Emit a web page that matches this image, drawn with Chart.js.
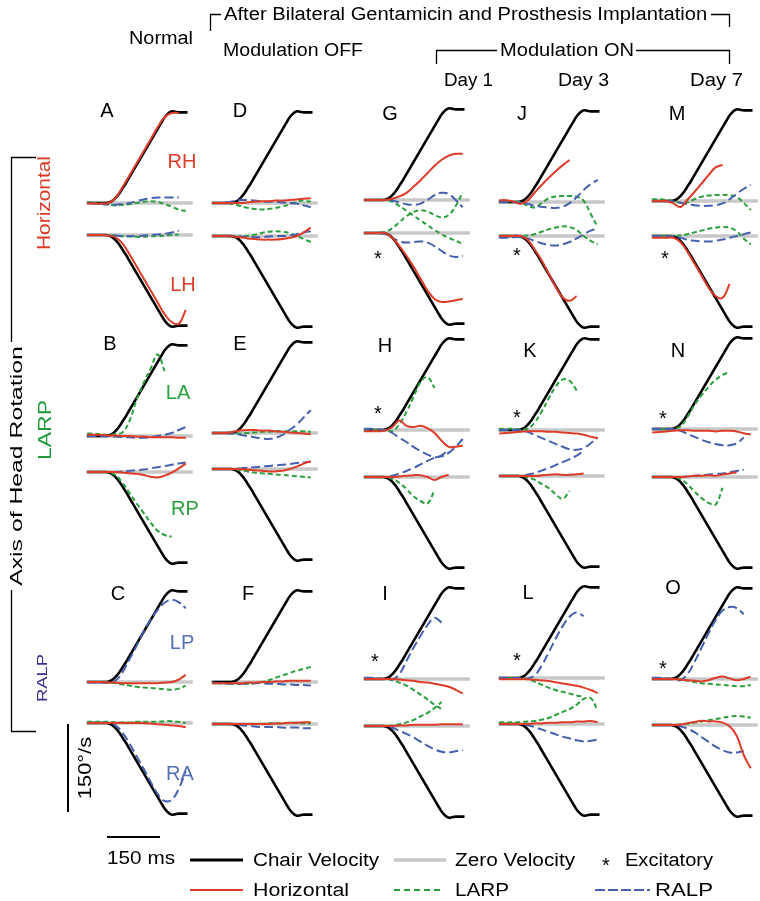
<!DOCTYPE html>
<html>
<head>
<meta charset="utf-8">
<script src="https://cdn.jsdelivr.net/npm/chart.js@4.4.0/dist/chart.umd.min.js"></script>
<style>
  body { margin: 0; background: #fff; }
  #fig { position: relative; width: 760px; height: 901px; overflow: hidden;
         font-family: "Liberation Sans", Arial, Helvetica, sans-serif; }
  .t { position: absolute; white-space: nowrap; line-height: 1; }
  canvas { position: absolute; }
</style>
</head>
<body>
<div id="fig"><canvas id="deco" width="760" height="901" style="left:0;top:0"></canvas></div>
<script>
// time axis of the eye traces (ms after trace start)
const T = [0, 20, 40, 60, 80, 100, 120, 140, 160, 180, 200, 220, 240, 260, 280];

// chair velocity profile (deg/s), same in every panel
const chairT = [0, 20, 40, 55, 62, 70, 80, 90, 100, 110, 120, 130, 140, 150, 160, 170, 180, 190, 200, 210, 218, 226, 234, 242, 250, 260, 270, 285];
const chairV = [0, 0, 0, 0, 1, 3, 8, 15, 24, 33, 43, 53, 63, 73, 83, 93, 103, 113, 123, 133, 141, 147, 151, 153, 152, 151, 151, 151];

// eye velocity (deg/s): up = upper trace, lo = lower trace; H = horizontal, L = LARP, R = RALP
const A_upH = [0, -1, -1, 0, 8, 26, 46, 66, 86, 106, 126, 143, 150, 150, null];
const A_upL = [2, 0, -2, -3, -4, -3, -2, 0, 2, 3, 2, -2, -6, -11, -13];
const A_upR = [0, 0, -1, -2, -3, -2, 0, 3, 6, 8, 9, 9, 9, 9, null];
const A_loH = [0, 0, 0, -1, -4, -14, -32, -52, -72, -92, -112, -132, -145, -148, -125];
const A_loL = [0, 0, 0, 0, -1, -2, -2, -3, -3, -2, -2, -1, 0, 1, null];
const A_loR = [0, 0, 0, 0, -1, -2, -2, -2, -1, 0, 1, 2, 4, 7, null];

const D_upH = [0, 0, 0, 0, 0, 1, 2, 3, 3, 4, 4, 5, 6, 7, 8];
const D_upL = [0, 0, 0, -2, -5, -8, -10, -11, -10, -8, -6, -2, 2, 4, 2];
const D_upR = [0, 0, 1, 3, 5, 5, 4, 3, 2, 2, 1, 0, -1, -4, -7];
const D_loH = [0, 0, 0, -1, -2, -4, -5, -6, -6, -6, -5, -3, 0, 6, 14];
const D_loL = [0, 0, 0, -1, -1, 0, 2, 5, 7, 8, 7, 5, 0, -5, -10];
const D_loR = [0, 0, 0, 0, -1, -2, -2, -2, -1, 0, 0, 1, 3, 6, 8];

const G_upH = [0, 0, 0, 0, 2, 6, 12, 22, 33, 45, 57, 67, 74, 77, 77];
const G_upL = [0, 0, 0, 0, -3, -10, -18, -26, -34, -42, -50, -57, -63, -68, -73];
const G_upR = [0, 0, 0, 0, -1, -4, -7, -8, -6, 0, 8, 12, 10, 0, -12];
const G_loH = [0, 0, 0, 0, -8, -22, -38, -56, -76, -96, -110, -115, -114, -112, -110];
const G_loL = [0, 0, 0, 2, 8, 18, 28, 35, 38, 36, 30, 26, 30, 45, 68];
const G_loR = [0, 0, 0, -2, -8, -14, -16, -15, -14, -16, -22, -30, -37, -40, -38];

const J_upH = [3, 3, 1, -3, 2, 15, 28, 40, 51, 61, 70, null, null, null, null];
const J_upL = [2, 2, 1, 0, -6, -9, -2, 6, 9, 10, 10, 9, 2, -20, -42];
const J_upR = [0, 0, 0, -1, -3, -6, -8, -9, -10, -8, -2, 8, 20, 30, 37];
const J_loH = [0, 0, 0, 0, -6, -22, -40, -62, -84, -102, -108, -100, null, null, null];
const J_loL = [0, 0, 0, 0, 1, 3, 7, 11, 14, 16, 15, 10, 0, -8, -14];
const J_loR = [-3, -3, -2, -2, -4, -8, -12, -15, -16, -14, -10, -4, 3, 9, 13];

const M_upH = [0, 0, 0, -4, -10, 2, 15, 29, 43, 56, 60, null, null, null, null];
const M_upL = [3, 3, 2, 0, -3, -2, 3, 7, 9, 10, 10, 10, 7, -3, -15];
const M_upR = [0, 0, 0, -1, -3, -5, -7, -8, -8, -7, -4, 3, 12, 20, 27];
const M_loH = [-3, -3, -3, -3, -10, -26, -46, -66, -86, -100, -103, -80, null, null, null];
const M_loL = [0, 0, 0, 0, 1, 3, 6, 9, 12, 14, 15, 14, 8, -4, -14];
const M_loR = [0, 0, 0, -1, -3, -6, -8, -9, -9, -8, -6, -3, 0, 3, 6];

const B_upH = [2, 2, 2, 1, 1, 0, 0, -1, -1, -2, -2, -2, -2, -3, -3];
const B_upL = [4, 4, 3, 2, 3, 6, 25, 60, 88, 112, 136, 108, null, null, null];
const B_upR = [0, 0, 0, 0, -1, -2, -2, -3, -3, -2, 0, 2, 5, 10, 15];
const B_loH = [0, 0, 0, 0, 0, -1, -2, -3, -5, -8, -9, -6, -1, 6, 14];
const B_loL = [0, 0, 0, -1, -5, -18, -35, -52, -68, -84, -98, -105, -108, null, null];
const B_loR = [0, 0, 0, 0, 0, 1, 2, 3, 4, 6, 8, 10, 12, 14, 16];

const E_upH = [0, 0, 0, 2, 4, 5, 5, 4, 4, 3, 2, 1, 0, -1, -2];
const E_upL = [0, 0, 0, -1, -1, 0, 1, 2, 2, 3, 3, 3, 3, 3, 2];
const E_upR = [0, 0, 0, -1, -3, -5, -7, -9, -10, -8, -3, 5, 14, 26, 38];
const E_loH = [0, 0, 0, 0, 0, -1, -2, -3, -4, -4, -3, 0, 4, 9, 13];
const E_loL = [0, 0, 0, 0, -2, -4, -6, -7, -8, -9, -10, -11, -12, -13, -14];
const E_loR = [0, 0, 0, 0, 1, 2, 3, 4, 5, 6, 7, 8, 10, 11, 12];

const H_upH = [-2, -2, -2, -1, 5, 16, 7, 5, 7, 3, -5, -18, -28, -28, -26];
const H_upL = [0, 0, 0, 0, -2, 10, 30, 55, 80, 88, 70, null, null, null, null];
const H_upR = [2, 2, 1, 0, -5, -13, -20, -28, -35, -41, -45, -44, -38, -28, -15];
const H_loH = [0, 0, 0, 0, 0, 1, 2, 3, 3, 0, -5, 0, 4, null, null];
const H_loL = [0, 0, 0, 0, -3, -10, -20, -32, -40, -44, -22, null, null, null, null];
const H_loR = [0, 0, 0, 0, 2, 6, 10, 15, 21, 27, 32, 36, 46, null, null];

const K_upH = [-6, -5, -4, -3, -2, -2, -2, -3, -3, -4, -5, -6, -8, -11, -14];
const K_upL = [2, 2, 2, 1, 2, 12, 30, 52, 72, 84, 82, 66, null, null, null];
const K_upR = [0, 0, 0, 0, -3, -8, -13, -18, -23, -28, -32, -33, -30, -22, -12];
const K_loH = [0, 0, 0, 0, 0, 0, 1, 2, 3, 2, 2, 3, 4, null, null];
const K_loL = [0, 0, 0, 0, -2, -6, -13, -20, -30, -38, -25, null, null, null, null];
const K_loR = [0, 0, 0, 0, 2, 5, 9, 13, 18, 23, 28, 34, 42, null, null];

const N_upH = [-6, -5, -4, -3, -2, -2, -3, -3, -3, -4, -3, -3, -4, -7, -9];
const N_upL = [0, 0, 0, 0, 4, 20, 40, 56, 70, 82, 90, 95, null, null, null];
const N_upR = [0, 0, 0, 0, -3, -8, -13, -18, -22, -25, -27, -27, -24, -14, null];
const N_loH = [0, 0, 0, 0, 0, 1, 2, 2, 3, 2, 4, 6, 8, null, null];
const N_loL = [0, 0, 0, 0, -3, -12, -24, -35, -43, -46, -18, null, null, null, null];
const N_loR = [0, 0, 0, 0, 0, 1, 2, 3, 4, 5, 6, 8, 10, 12, null];

const C_upH = [0, 0, 0, -1, -1, -2, -2, -2, -2, -2, -2, -1, 0, 4, 12];
const C_upL = [0, 0, 0, -1, -2, -4, -6, -8, -9, -10, -11, -12, -13, -11, -6];
const C_upR = [0, -1, -1, -1, 2, 16, 38, 60, 84, 104, 120, 132, 137, 133, 123];
const C_loH = [0, 0, 0, 0, 0, 0, 0, 0, 0, -1, -2, -3, -4, -5, -7];
const C_loL = [2, 2, 2, 2, 1, 1, 1, 2, 2, 2, 2, 3, 3, 2, 0];
const C_loR = [0, 0, 0, 0, -4, -16, -34, -55, -76, -98, -118, -130, -128, -110, -80];

const F_upH = [-2, -2, -2, -2, -2, -1, -1, 0, 0, 1, 1, 2, 2, 2, 2];
const F_upL = [-2, -2, -2, -3, -3, -3, -2, 0, 3, 7, 11, 15, 19, 22, 25];
const F_upR = [-1, -2, -3, -3, -3, -3, -2, -2, -3, -3, -4, -4, -5, -5, -6];
const F_loH = [0, 0, 0, 0, 0, 0, 0, 0, 0, 1, 1, 2, 2, 3, 3];
const F_loL = [0, 0, 0, 0, 0, 0, 0, 0, 1, 1, 1, 2, 2, 1, 1];
const F_loR = [0, 0, 0, -1, -2, -3, -4, -5, -5, -5, -6, -6, -6, -7, -7];

const I_upH = [0, 0, 0, 0, 0, -1, -2, -3, -5, -6, -8, -10, -13, -18, -24];
const I_upL = [0, 0, 0, 0, -2, -6, -11, -18, -26, -34, -43, -50, null, null, null];
const I_upR = [2, 2, 1, 0, -1, 8, 30, 52, 72, 90, 102, 94, null, null, null];
const I_loH = [0, 0, 0, 0, 0, 1, 1, 2, 2, 2, 2, 3, 3, 3, 3];
const I_loL = [0, 0, 0, 0, 1, 3, 6, 10, 16, 22, 30, 40, null, null, null];
const I_loR = [0, 0, 0, 0, -3, -8, -13, -19, -26, -33, -39, -43, -44, -42, -40];

const L_upH = [-2, -2, -2, -2, -2, -3, -4, -5, -7, -9, -11, -13, -16, -20, -25];
const L_upL = [0, 0, 0, 0, -2, -6, -11, -16, -20, -23, -26, -29, -31, null, null];
const L_upR = [0, 0, 0, 0, -1, 4, 20, 42, 65, 86, 102, 109, 103, null, null];
const L_loH = [0, 0, 0, 0, 0, 1, 1, 2, 2, 3, 3, 4, 4, 5, 3];
const L_loL = [3, 3, 3, 3, 4, 5, 7, 10, 15, 20, 25, 32, 42, 43, 22];
const L_loR = [0, 0, 0, 0, -2, -5, -9, -13, -17, -21, -24, -27, -29, -28, -26];

const O_upH = [0, 0, 0, 0, -1, -2, -3, -4, -2, 2, 4, 1, -2, 0, 4];
const O_upL = [0, 0, 0, 0, -1, -3, -5, -7, -8, -9, -10, -11, -12, -12, -10];
const O_upR = [2, 2, 1, 0, -2, 8, 28, 52, 76, 98, 114, 120, 118, 108, null];
const O_loH = [0, 0, 0, 0, 1, 3, 5, 7, 6, 6, 4, -2, -18, -50, -72];
const O_loL = [0, 0, 0, 0, 1, 2, 4, 6, 8, 10, 12, 14, 15, 14, 12];
const O_loR = [0, 0, 0, 0, -2, -6, -12, -20, -28, -36, -42, -46, -46, -43, null];

// layout of the 15 panels: trace start x, upper / lower zero line y, label and asterisk spots
const PANELS = [
  { id: 'A', x0: 87,  up: 203, low: 235, lab: [107, 110], star: null,       d: [A_upH, A_upL, A_upR, A_loH, A_loL, A_loR] },
  { id: 'D', x0: 212, up: 203, low: 236, lab: [240, 110], star: null,       d: [D_upH, D_upL, D_upR, D_loH, D_loL, D_loR] },
  { id: 'G', x0: 364, up: 200, low: 233, lab: [390, 113], star: [378, 253], d: [G_upH, G_upL, G_upR, G_loH, G_loL, G_loR] },
  { id: 'J', x0: 499, up: 202, low: 236, lab: [522, 113], star: [517, 250], d: [J_upH, J_upL, J_upR, J_loH, J_loL, J_loR] },
  { id: 'M', x0: 652, up: 201, low: 236, lab: [677, 113], star: [665, 253], d: [M_upH, M_upL, M_upR, M_loH, M_loL, M_loR] },
  { id: 'B', x0: 87,  up: 436, low: 472, lab: [110, 343], star: null,       d: [B_upH, B_upL, B_upR, B_loH, B_loL, B_loR] },
  { id: 'E', x0: 212, up: 433, low: 469, lab: [240, 343], star: null,       d: [E_upH, E_upL, E_upR, E_loH, E_loL, E_loR] },
  { id: 'H', x0: 364, up: 430, low: 477, lab: [385, 345], star: [378, 408], d: [H_upH, H_upL, H_upR, H_loH, H_loL, H_loR] },
  { id: 'K', x0: 499, up: 430, low: 476, lab: [530, 350], star: [517, 412], d: [K_upH, K_upL, K_upR, K_loH, K_loL, K_loR] },
  { id: 'N', x0: 652, up: 429, low: 477, lab: [678, 350], star: [663, 413], d: [N_upH, N_upL, N_upR, N_loH, N_loL, N_loR] },
  { id: 'C', x0: 87,  up: 682, low: 723, lab: [118, 593], star: null,       d: [C_upH, C_upL, C_upR, C_loH, C_loL, C_loR] },
  { id: 'F', x0: 212, up: 682, low: 724, lab: [248, 593], star: null,       d: [F_upH, F_upL, F_upR, F_loH, F_loL, F_loR] },
  { id: 'I', x0: 364, up: 679, low: 726, lab: [385, 593], star: [375, 656], d: [I_upH, I_upL, I_upR, I_loH, I_loL, I_loR] },
  { id: 'L', x0: 499, up: 678, low: 724, lab: [528, 592], star: [517, 655], d: [L_upH, L_upL, L_upR, L_loH, L_loL, L_loR] },
  { id: 'O', x0: 652, up: 679, low: 725, lab: [673, 587], star: [663, 663], d: [O_upH, O_upL, O_upR, O_loH, O_loL, O_loR] },
];

const RED = '#dc3c28', GREEN = '#2a9f3c', BLUE = '#4660ad', GRAY = '#c8c8c8';
const K = 150 / 90;        // deg/s per pixel
const PX_MS = 53 / 150;    // pixels per ms
const X_MIN = -12, X_MAX = 312;
const PAD = 110;

const fig = document.getElementById('fig');

function txt(s, x, y, o = {}) {
  const d = document.createElement('div');
  d.className = 't';
  d.textContent = s;
  d.style.fontSize = (o.size || 18) + 'px';
  d.style.color = o.color || '#000';
  d.style.left = x + 'px';
  d.style.top = y + 'px';
  fig.appendChild(d);
  const sx = o.w ? o.w / d.offsetWidth : 1;
  d.style.transformOrigin = o.left ? '0 50%' : '50% 50%';
  d.style.transform = `translate(${o.left ? '0' : '-50%'},-50%) rotate(${o.rot || 0}deg) scaleX(${sx})`;
}

function pts(arr) {
  const out = [];
  arr.forEach((v, i) => { if (v !== null) out.push({ x: T[i], y: v }); });
  return out;
}

function eye(data, axis, color, dash, order) {
  return { data: pts(data), yAxisID: axis, borderColor: color, borderWidth: 2,
           borderDash: dash, order, tension: 0.4 };
}

function makePanel(p) {
  const c = document.createElement('canvas');
  const top = p.up - PAD, h = (p.low + PAD) - top;
  const w = Math.round((X_MAX - X_MIN) * PX_MS);
  c.width = w; c.height = h;
  c.style.left = Math.round(p.x0 + X_MIN * PX_MS) + 'px';
  c.style.top = top + 'px';
  fig.appendChild(c);

  const upMax = PAD * K, loMax = (p.low - top) * K;
  const chairUp = chairT.map((t, i) => ({ x: t, y: chairV[i] }));
  const chairLo = chairT.map((t, i) => ({ x: t, y: -chairV[i] }));
  const zero = [{ x: -3, y: 0 }, { x: 300, y: 0 }];
  const [uH, uL, uR, lH, lL, lR] = p.d;

  new Chart(c, {
    type: 'line',
    data: {
      datasets: [
        { data: zero, yAxisID: 'yU', borderColor: GRAY, borderWidth: 3.5, order: 10 },
        { data: zero, yAxisID: 'yL', borderColor: GRAY, borderWidth: 3.5, order: 10 },
        { data: chairUp, yAxisID: 'yU', borderColor: '#000', borderWidth: 2.6, order: 5, cubicInterpolationMode: 'monotone' },
        { data: chairLo, yAxisID: 'yL', borderColor: '#000', borderWidth: 2.6, order: 5, cubicInterpolationMode: 'monotone' },
        eye(uL, 'yU', GREEN, [5, 3], 3),
        eye(lL, 'yL', GREEN, [5, 3], 3),
        eye(uR, 'yU', BLUE, [9, 4], 2),
        eye(lR, 'yL', BLUE, [9, 4], 2),
        eye(uH, 'yU', RED, [], 1),
        eye(lH, 'yL', RED, [], 1),
      ]
    },
    options: {
      responsive: false,
      animation: false,
      devicePixelRatio: 1,
      events: [],
      layout: { padding: 0 },
      elements: { point: { radius: 0 }, line: { borderCapStyle: 'butt' } },
      plugins: { legend: { display: false }, tooltip: { enabled: false } },
      scales: {
        x: { type: 'linear', min: X_MIN, max: X_MAX, display: false },
        yU: { type: 'linear', min: upMax - h * K, max: upMax, display: false },
        yL: { type: 'linear', min: loMax - h * K, max: loMax, display: false }
      }
    }
  });

  txt(p.id, p.lab[0], p.lab[1], { size: 20 });
  if (p.star) txt('*', p.star[0], p.star[1] + 5, { size: 20 });
}

// brackets, scale bars and legend keys
const g = document.getElementById('deco').getContext('2d');
g.strokeStyle = '#000';
g.lineWidth = 1.3;
function poly(pts) {
  g.beginPath();
  g.moveTo(pts[0][0], pts[0][1]);
  pts.slice(1).forEach(q => g.lineTo(q[0], q[1]));
  g.stroke();
}
poly([[210.5, 31], [210.5, 14.5], [221, 14.5]]);
poly([[711, 14.5], [729.5, 14.5], [729.5, 27]]);
poly([[436.5, 64], [436.5, 50.5], [497, 50.5]]);
poly([[636, 50.5], [729.5, 50.5], [729.5, 64]]);
poly([[36, 157.5], [11.5, 157.5], [11.5, 342]]);
poly([[11.5, 590], [11.5, 731.5], [36, 731.5]]);
g.lineWidth = 2;
poly([[68, 724], [68, 812]]);
poly([[107, 837], [160, 837]]);

function key(x1, x2, y, color, width, dash) {
  g.save();
  g.strokeStyle = color; g.lineWidth = width; g.setLineDash(dash);
  poly([[x1, y], [x2, y]]);
  g.restore();
}
key(190, 243, 860, '#000', 3, []);
key(394, 446, 860, GRAY, 3.5, []);
key(190, 243, 890, RED, 2.2, []);
key(394, 443, 890, GREEN, 2.2, [6, 4]);
key(595, 650, 890, BLUE, 2.2, [10, 3]);

PANELS.forEach(makePanel);

// header
txt('After Bilateral Gentamicin and Prosthesis Implantation', 224, 14, { left: true, w: 483 });
txt('Normal', 129, 38, { left: true, w: 64 });
txt('Modulation OFF', 223, 50, { left: true, w: 140 });
txt('Modulation ON', 500, 50, { left: true, w: 134 });
txt('Day 1', 444, 80, { left: true, w: 49 });
txt('Day 3', 558, 80, { left: true, w: 51 });
txt('Day 7', 690, 80, { left: true, w: 53 });

// axis side labels
txt('Axis of Head Rotation', 17, 466, { rot: -90, size: 16, w: 240 });
txt('Horizontal', 44, 203, { rot: -90, color: RED, w: 94 });
txt('LARP', 45, 430, { rot: -90, color: '#1f9a3a', w: 60 });
txt('RALP', 41, 678, { rot: -90, color: '#3b2e8c', size: 15, w: 48 });

// canal labels in the normal column
txt('RH', 182, 161, { size: 20, color: RED });
txt('LH', 183, 284, { size: 20, color: RED });
txt('LA', 178, 392, { size: 20, color: GREEN });
txt('RP', 185, 508, { size: 20, color: GREEN });
txt('LP', 182, 642, { size: 20, color: '#5670b6' });
txt('RA', 180, 773, { size: 20, color: '#5670b6' });

// scale bars
txt('150°/s', 85, 768, { rot: -90, w: 62 });
txt('150 ms', 107, 858, { left: true, w: 68 });

// legend
txt('Chair Velocity', 253, 860, { left: true, w: 126 });
txt('Zero Velocity', 455, 860, { left: true, w: 120 });
txt('*', 606, 865, { size: 20 });
txt('Excitatory', 625, 860, { left: true, w: 88 });
txt('Horizontal', 253, 890, { left: true, w: 96 });
txt('LARP', 455, 890, { left: true, w: 54 });
txt('RALP', 655, 890, { left: true, w: 58 });
</script>
</body>
</html>
